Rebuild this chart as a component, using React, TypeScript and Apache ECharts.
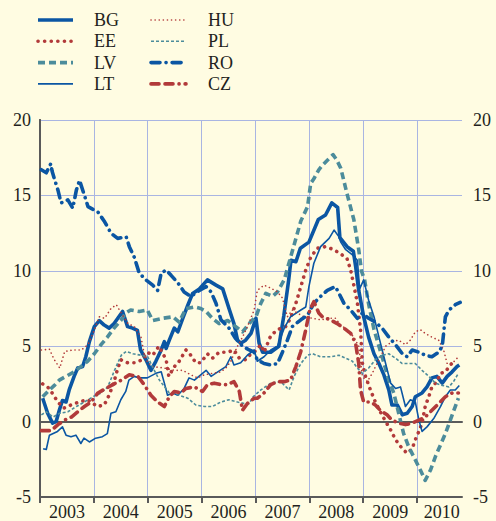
import React, { useEffect, useRef } from "react";
import * as echarts from "echarts";

// months since Jan 2003 -> value (%)
const years = ["2003", "2004", "2005", "2006", "2007", "2008", "2009", "2010"];
const yearBoundaries = [0, 12, 24, 36, 48, 60, 72, 84];
const yearLabelPos = [6, 18, 30, 42, 54, 66, 78, 89.5];

const bg = [[0.6,1.55],[1.7,0.55],[2.8,-0.1],[3.6,0.0],[4.3,0.75],[5.0,1.4],[5.8,1.3],[6.5,2.1],[7.6,3.0],[8.4,3.55],[9.5,3.65],[10.2,4.3],[11.0,5.3],[12.1,6.3],[13.2,6.7],[14.3,6.4],[15.4,6.2],[16.5,6.5],[18.4,7.3],[19.5,6.3],[20.6,6.2],[21.7,6.05],[22.4,4.75],[23.6,4.1],[24.7,3.4],[25.8,4.0],[27.0,4.75],[27.7,5.3],[28.1,4.85],[28.8,5.4],[29.9,6.2],[30.7,5.95],[31.8,6.85],[32.9,7.7],[34.0,8.5],[35.5,8.8],[37.3,9.4],[39.2,9.05],[40.7,8.8],[42.1,7.5],[43.2,6.5],[44.0,5.4],[44.7,5.2],[45.8,5.4],[47.0,5.85],[48.1,6.85],[48.8,5.2],[49.6,4.6],[51.4,4.6],[53.2,5.0],[54.3,7.0],[55.4,9.4],[55.9,10.7],[57.0,10.6],[58.0,11.5],[59.9,11.9],[62.0,13.4],[63.6,13.7],[65.0,14.5],[66.3,14.2],[66.8,12.2],[68.4,11.6],[69.8,11.3],[70.3,10.3],[71.0,8.7],[72.1,6.95],[73.2,5.6],[74.4,4.5],[75.5,3.85],[76.6,3.1],[77.7,2.1],[78.4,1.1],[79.6,1.1],[80.7,0.45],[81.8,0.55],[82.9,1.0],[83.6,1.65],[85.1,1.9],[86.2,2.3],[87.3,2.9],[88.4,3.0],[89.6,2.55],[90.7,3.0],[91.8,3.3],[92.9,3.65],[93.4,3.75]];

const ee = [[0.6,2.5],[2.1,2.2],[3.2,1.65],[4.3,1.2],[5.4,0.9],[6.9,1.1],[8.7,1.3],[10.6,1.45],[12.8,1.0],[14.3,1.1],[15.4,1.75],[16.5,2.65],[17.2,3.4],[18.0,4.1],[19.5,3.9],[21.0,3.9],[22.8,4.1],[23.9,4.6],[25.1,4.4],[26.5,5.0],[28.1,4.1],[28.7,3.0],[29.8,3.6],[31.0,4.0],[32.5,4.75],[33.6,4.4],[34.7,3.9],[35.8,3.9],[37.3,4.5],[38.4,4.2],[39.9,4.6],[41.8,4.6],[43.2,4.75],[44.4,4.2],[45.8,4.1],[47.0,4.5],[47.7,4.6],[49.2,5.1],[49.9,4.6],[51.4,5.7],[52.9,6.1],[54.7,6.3],[55.8,6.85],[57.0,7.85],[58.1,8.95],[59.2,10.05],[60.3,10.9],[61.8,11.5],[63.6,11.6],[65.5,11.4],[67.3,11.05],[68.4,10.8],[69.2,10.05],[69.9,9.05],[70.7,7.85],[71.0,7.1],[71.4,6.1],[71.8,3.9],[72.5,3.0],[73.6,2.1],[74.7,1.3],[75.8,0.65],[77.0,0.0],[78.1,-0.55],[79.2,-1.2],[80.7,-1.8],[81.8,-2.1],[82.9,-1.8],[83.6,-1.2],[84.4,-0.65],[85.1,-0.1],[85.8,1.0],[86.6,1.65],[87.3,2.3],[88.4,2.65],[89.2,3.2],[90.3,3.3],[91.4,3.75],[92.5,4.1]];

const lv = [[0.6,1.65],[2.1,2.1],[3.2,2.4],[4.3,2.75],[5.8,3.0],[7.6,3.3],[9.1,3.65],[10.6,4.0],[12.1,4.5],[13.6,5.1],[15.0,5.6],[16.5,6.2],[18.0,6.7],[19.1,7.2],[20.2,7.4],[22.1,7.3],[23.9,7.4],[25.1,6.7],[27.3,6.85],[29.6,6.95],[31.0,6.6],[32.5,7.5],[34.4,7.6],[35.8,7.5],[37.0,7.3],[38.4,6.85],[39.9,6.5],[41.8,6.7],[43.6,6.3],[45.1,5.95],[46.6,6.5],[47.7,6.85],[48.1,6.95],[49.2,7.85],[50.3,8.5],[51.8,8.3],[52.9,8.6],[54.4,9.4],[56.2,11.3],[58.1,13.3],[59.6,14.25],[60.3,15.8],[61.0,16.1],[62.1,16.7],[62.9,17.0],[64.4,17.45],[65.3,17.7],[66.1,17.35],[67.0,16.8],[68.4,15.1],[69.9,13.4],[71.0,11.4],[71.6,10.0],[72.3,9.4],[73.2,7.8],[74.4,6.1],[75.5,5.0],[76.6,3.9],[77.7,2.75],[78.8,1.9],[79.9,0.55],[81.0,-0.8],[82.1,-1.65],[83.2,-2.3],[84.7,-3.2],[85.8,-3.9],[87.0,-3.2],[88.1,-2.3],[89.2,-1.55],[90.3,-0.8],[91.4,0.1],[92.5,1.0],[93.2,1.55]];

const lt = [[0.7,-1.8],[1.4,-1.85],[2.1,-0.9],[3.9,-0.65],[5.0,-0.35],[5.8,-0.9],[6.9,-1.0],[8.0,-0.9],[9.1,-1.45],[9.8,-1.1],[11.0,-1.35],[12.4,-1.1],[13.9,-1.0],[15.0,-0.8],[15.8,0.55],[16.9,0.65],[18.0,1.45],[19.1,2.0],[19.8,2.75],[21.0,3.0],[22.1,2.9],[23.9,2.9],[25.8,3.2],[27.0,3.3],[27.7,2.55],[28.4,1.75],[29.6,1.9],[30.7,1.75],[32.1,2.2],[33.2,2.9],[34.4,2.75],[35.8,3.1],[37.0,3.4],[38.1,3.0],[39.6,3.3],[41.4,3.65],[42.5,4.3],[43.2,3.75],[44.7,3.9],[46.2,4.4],[47.7,4.75],[48.4,4.0],[49.9,4.3],[51.4,4.75],[52.9,5.0],[54.4,6.2],[55.8,6.95],[58.1,7.4],[59.2,7.6],[59.9,8.95],[61.0,10.5],[62.5,11.6],[64.4,12.15],[65.5,12.7],[66.6,12.25],[67.0,11.9],[68.1,11.4],[69.6,11.05],[70.7,10.7],[71.2,8.8],[72.1,9.4],[73.2,8.05],[74.4,6.95],[75.5,5.6],[76.6,4.3],[78.1,2.55],[79.2,2.2],[80.3,2.3],[81.4,1.0],[82.5,1.45],[83.6,1.3],[84.4,0.1],[85.1,-0.65],[86.2,-0.35],[87.7,0.2],[89.2,1.0],[90.3,1.65],[91.4,2.1],[92.5,2.1],[93.4,2.4]];

const hu = [[0.3,4.75],[2.1,4.8],[3.2,4.1],[4.4,3.55],[5.5,4.65],[7.3,4.75],[9.2,4.75],[10.7,5.1],[11.8,5.85],[13.2,6.95],[14.4,6.85],[15.8,7.5],[17.0,7.75],[18.1,7.2],[19.6,6.5],[21.0,6.3],[22.5,5.6],[23.2,4.5],[24.0,3.9],[25.1,3.65],[27.7,3.55],[29.9,3.4],[31.8,3.4],[33.6,3.1],[35.1,2.9],[36.6,3.1],[38.4,3.2],[40.3,3.3],[41.4,3.55],[42.5,4.0],[43.2,4.5],[44.0,5.0],[45.1,5.6],[46.2,6.3],[47.7,7.4],[48.4,8.7],[49.9,9.05],[51.4,8.85],[52.9,8.6],[54.0,8.2],[55.1,6.95],[56.2,7.4],[57.3,7.2],[58.8,6.95],[60.7,6.85],[62.5,6.75],[64.4,6.85],[65.8,6.85],[67.0,6.4],[68.4,6.1],[69.9,5.6],[71.0,5.0],[71.8,3.0],[72.9,2.65],[74.0,3.2],[75.5,4.1],[77.0,5.0],[78.4,5.3],[79.9,5.4],[81.4,5.1],[82.5,5.4],[83.6,5.95],[84.7,6.1],[85.8,5.85],[87.3,5.6],[88.8,5.4],[89.9,4.75],[90.7,3.85],[91.8,3.85],[92.9,4.2]];

const pl = [[0.3,0.45],[1.4,0.65],[2.9,0.3],[4.4,0.55],[6.2,0.65],[8.1,1.0],[9.9,1.3],[11.8,1.65],[13.6,1.9],[15.1,2.3],[16.6,3.4],[18.1,4.4],[19.2,4.65],[20.7,4.5],[22.5,4.4],[24.0,4.3],[25.1,3.6],[26.6,2.75],[28.8,1.9],[31.0,1.75],[32.9,1.55],[34.7,1.1],[36.6,1.0],[38.4,1.0],[40.3,1.3],[42.1,1.45],[44.0,1.3],[45.5,1.2],[46.6,1.2],[47.5,1.65],[49.2,2.1],[51.4,2.55],[53.6,2.65],[55.5,2.1],[56.6,3.0],[58.1,3.85],[59.6,4.4],[60.7,4.5],[62.5,4.3],[64.7,4.3],[66.6,4.4],[68.1,4.2],[69.6,4.0],[70.7,3.55],[71.8,3.2],[73.2,3.55],[74.7,4.1],[76.2,4.4],[77.7,4.5],[79.2,4.2],[80.7,3.85],[82.1,3.85],[83.6,3.85],[85.1,3.4],[86.6,3.0],[88.1,2.55],[89.6,2.4],[91.1,2.3],[92.1,2.65],[93.2,3.2]];

const ro = [[0.3,16.7],[1.4,16.5],[2.4,17.1],[2.7,16.6],[3.2,16.1],[4.0,15.35],[4.7,14.5],[6.2,14.7],[7.3,14.15],[8.1,15.35],[8.8,16.0],[9.9,15.0],[10.7,14.25],[12.9,13.9],[14.4,13.25],[15.8,12.5],[17.3,12.15],[19.2,12.25],[19.9,11.6],[21.0,10.9],[22.1,9.85],[23.6,9.4],[25.1,9.05],[26.2,8.7],[27.0,9.85],[28.1,10.05],[29.2,9.7],[30.7,9.2],[32.1,8.6],[33.6,8.3],[35.5,8.7],[37.0,8.95],[38.1,8.6],[39.2,7.85],[40.3,6.75],[42.1,6.2],[43.6,5.5],[45.1,5.0],[46.6,4.75],[47.7,4.6],[48.4,4.1],[49.9,3.85],[51.4,3.75],[52.9,3.85],[54.0,4.6],[55.1,5.4],[56.2,6.3],[58.1,6.75],[59.6,7.05],[61.0,7.85],[62.5,8.3],[64.0,8.7],[65.8,8.95],[66.6,8.5],[67.7,7.85],[69.2,7.4],[70.7,6.85],[71.8,7.2],[73.2,6.85],[74.7,6.6],[76.2,6.2],[77.7,5.6],[79.2,5.1],[80.7,4.5],[81.8,4.3],[82.9,4.75],[84.4,4.6],[85.8,4.4],[87.3,4.3],[88.8,4.6],[89.6,5.0],[89.9,5.85],[90.3,6.95],[91.1,7.4],[92.5,7.75],[93.6,7.9]];

const cz = [[0.3,-0.6],[2.5,-0.6],[4.0,-0.2],[5.5,0.1],[7.0,0.3],[8.4,0.65],[9.9,1.0],[11.4,1.3],[12.9,1.9],[14.7,2.2],[16.2,2.45],[18.1,2.75],[19.9,3.1],[21.8,3.0],[23.2,2.45],[24.7,1.75],[26.2,1.3],[27.7,1.0],[28.8,1.65],[29.9,2.0],[31.4,1.9],[32.5,2.2],[34.4,2.3],[36.2,2.0],[37.3,2.45],[38.8,2.55],[40.3,2.45],[41.8,2.45],[43.2,2.65],[44.4,2.0],[45.1,0.75],[46.2,1.2],[47.7,1.55],[48.4,1.55],[49.9,1.9],[51.4,2.45],[52.9,2.65],[54.4,2.65],[55.8,2.75],[57.0,3.65],[58.1,4.65],[59.2,6.1],[60.1,7.4],[61.0,7.95],[62.1,7.2],[62.9,6.95],[64.7,6.75],[66.2,6.5],[67.7,6.2],[69.2,5.85],[70.3,5.2],[71.0,3.85],[71.4,2.1],[72.1,1.3],[73.6,1.3],[74.7,1.1],[75.8,0.75],[77.3,0.45],[78.4,0.1],[79.9,-0.1],[81.4,-0.2],[82.9,-0.1],[84.4,0.1],[85.8,0.3],[87.3,0.75],[88.8,1.2],[90.3,1.65],[91.8,1.9],[93.2,1.9]];

const BLUE = "#0B56A3";
const RED = "#B23A3A";
const TEAL = "#4C8C9B";
const BG_COLOR = "#FFFCE2";
const GRID_COLOR = "#A9B5E2";
const AXIS_COLOR = "#5A5A5A";
const TEXT_COLOR = "#231F20";
const FONT = '"Liberation Serif", "Times New Roman", serif';

type Def = { name: string; data: number[][]; color: string; width: number; dash: number[] | null; cap: "round" | "butt" };

const defs: Def[] = [
  { name: "BG", data: bg, color: BLUE, width: 3.6, dash: null, cap: "butt" },
  { name: "EE", data: ee, color: RED, width: 3.6, dash: [0.1, 6.5], cap: "round" },
  { name: "LV", data: lv, color: TEAL, width: 3.6, dash: [7, 4], cap: "butt" },
  { name: "LT", data: lt, color: BLUE, width: 1.6, dash: null, cap: "butt" },
  { name: "HU", data: hu, color: RED, width: 1.6, dash: [0.1, 4], cap: "round" },
  { name: "PL", data: pl, color: TEAL, width: 1.6, dash: [3, 2], cap: "butt" },
  { name: "RO", data: ro, color: BLUE, width: 3.6, dash: [9, 6, 0.1, 6], cap: "round" },
  { name: "CZ", data: cz, color: RED, width: 3.6, dash: [8, 6, 8, 6, 0.1, 6], cap: "round" },
];

export default function App() {
  const ref = useRef<HTMLDivElement>(null);
  useEffect(() => {
    document.body.style.margin = "0";
    const chart = echarts.init(ref.current!, undefined, { renderer: "svg" });

    const legendGraphics: any[] = [];
    defs.forEach((d, i) => {
      const col = i < 4 ? 0 : 1;
      const row = i % 4;
      const lx = col === 0 ? 38 : 151;
      const tx = col === 0 ? 94 : 208;
      const y = 20 + row * 21.3;
      legendGraphics.push({
        type: "line",
        shape: { x1: lx, y1: y, x2: lx + 35, y2: y },
        style: {
          stroke: d.color,
          lineWidth: d.width,
          lineDash: d.dash || undefined,
          lineCap: d.cap,
        },
      });
      legendGraphics.push({
        type: "text",
        x: tx,
        y: y,
        style: {
          text: d.name,
          font: `18px ${FONT}`,
          fill: TEXT_COLOR,
          verticalAlign: "middle",
          align: "left",
        },
      });
    });

    const labelStyle = { color: TEXT_COLOR, fontFamily: FONT, fontSize: 18 };

    chart.setOption({
      animation: false,
      backgroundColor: BG_COLOR,
      grid: { left: 40, right: 34, top: 120, bottom: 23, containLabel: false },
      graphic: legendGraphics,
      xAxis: [
        {
          type: "value",
          min: 0,
          max: 94,
          interval: 12,
          position: "bottom",
          axisLine: { show: true, onZero: false, lineStyle: { color: AXIS_COLOR, width: 2 } },
          axisTick: { show: true, inside: false, length: 6, customValues: yearBoundaries, lineStyle: { color: AXIS_COLOR, width: 2 } },
          axisLabel: {
            ...labelStyle,
            margin: 6,
            customValues: yearLabelPos,
            formatter: (v: number) => years[Math.round((v - 6) / 12)] ?? "",
          },
          splitLine: { show: true, lineStyle: { color: GRID_COLOR, width: 1 } },
        },
        {
          type: "value",
          min: 0,
          max: 94,
          position: "bottom",
          axisLine: { show: true, onZero: true, lineStyle: { color: AXIS_COLOR, width: 2 } },
          axisTick: { show: false },
          axisLabel: { show: false },
          splitLine: { show: false },
        },
      ],
      yAxis: [
        {
          type: "value",
          min: -5,
          max: 20,
          interval: 5,
          position: "left",
          axisLine: { show: true, lineStyle: { color: AXIS_COLOR, width: 2 } },
          axisTick: { show: false },
          axisLabel: { ...labelStyle, margin: 9 },
          splitLine: { show: true, lineStyle: { color: GRID_COLOR, width: 1 } },
        },
        {
          type: "value",
          min: -5,
          max: 20,
          interval: 5,
          position: "right",
          axisLine: { show: true, lineStyle: { color: AXIS_COLOR, width: 2 } },
          axisTick: { show: false },
          axisLabel: { ...labelStyle, margin: 11 },
          splitLine: { show: false },
        },
      ],
      series: defs.map((d) => ({
        name: d.name,
        type: "line",
        xAxisIndex: 0,
        yAxisIndex: 0,
        data: d.data,
        showSymbol: false,
        symbol: "none",
        smooth: false,
        lineStyle: {
          color: d.color,
          width: d.width,
          type: d.dash ? d.dash : "solid",
          cap: d.cap,
          join: "round",
        },
      })),
    });
    return () => chart.dispose();
  }, []);
  return <div ref={ref} style={{ width: 496, height: 521, background: BG_COLOR }} />;
}
